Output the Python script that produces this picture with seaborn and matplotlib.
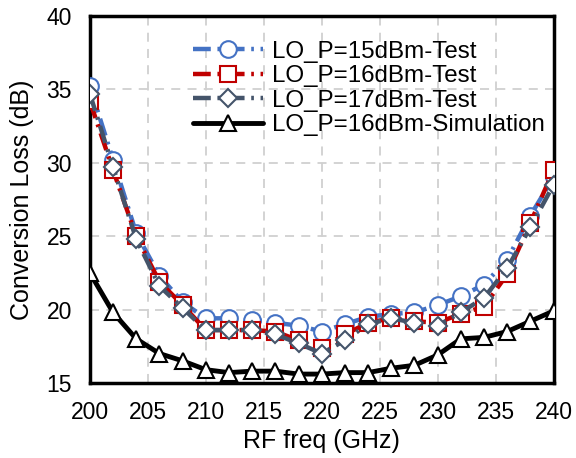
import seaborn as sns
import matplotlib.pyplot as plt
import pandas as pd
import numpy as np

# Data
freq = [200, 202, 204, 206, 208, 210, 212, 214, 216, 218, 220,
        222, 224, 226, 228, 230, 232, 234, 236, 238, 240]
lo15_test = [35.2, 30.2, 25.2, 22.3, 20.5, 19.4, 19.4, 19.3, 19.1, 18.9, 18.5,
             19.0, 19.5, 19.7, 19.8, 20.3, 20.9, 21.7, 23.4, 26.4, 29.0]
lo16_test = [34.2, 29.5, 25.0, 21.9, 20.3, 18.6, 18.6, 18.6, 18.5, 17.9, 17.4,
             18.3, 19.1, 19.4, 19.2, 19.1, 19.7, 20.2, 22.4, 25.9, 29.5]
lo17_test = [34.7, 29.7, 24.8, 21.6, 20.1, 18.6, 18.6, 18.6, 18.3, 17.7, 17.0,
             17.9, 19.0, 19.4, 19.1, 18.9, 19.8, 20.8, 22.8, 25.6, 28.5]
lo16_sim = [22.5, 19.8, 18.0, 17.0, 16.5, 15.9, 15.7, 15.8, 15.8, 15.6, 15.6,
            15.7, 15.7, 16.0, 16.2, 16.9, 18.0, 18.1, 18.5, 19.2, 19.9]

labels = ['LO_P=15dBm-Test', 'LO_P=16dBm-Test', 'LO_P=17dBm-Test', 'LO_P=16dBm-Simulation']

df = pd.DataFrame({'freq': freq, labels[0]: lo15_test, labels[1]: lo16_test,
                   labels[2]: lo17_test, labels[3]: lo16_sim})

sns.set_style('white', {'text.color': 'black', 'axes.labelcolor': 'black',
                        'xtick.color': 'black', 'ytick.color': 'black'})
plt.rcParams['font.family'] = ['Liberation Sans', 'DejaVu Sans']

fig = plt.figure(figsize=(5.76, 4.58), dpi=100)
ax = fig.add_axes([0.156, 0.164, 0.805, 0.801])

dashdot = (0, (4, 1.5, 0.6, 1.5))
styles = [
    dict(color='#4472C4', marker='o', ms=12, ls=dashdot),
    dict(color='#C00000', marker='s', ms=12, ls=dashdot),
    dict(color='#44546A', marker='D', ms=9.5, ls=dashdot),
    dict(color='black', marker='^', ms=12, ls='-'),
]

for i, (lab, st) in enumerate(zip(labels, styles)):
    sns.lineplot(data=df, x='freq', y=lab, ax=ax, label=lab,
                 color=st['color'], linestyle=st['ls'],
                 lw=3.2 if i < 3 else 3.5,
                 marker=st['marker'], markersize=st['ms'],
                 markerfacecolor='white', markeredgecolor=st['color'],
                 markeredgewidth=1.5, zorder=3 + i)

ax.set_xlim(200, 240)
ax.set_ylim(15, 40)
ax.set_xticks(np.arange(200, 241, 5))
ax.set_yticks(np.arange(15, 41, 5))
ax.grid(True, color='#D0D0D0', ls=(0, (5, 4)), lw=1.3)
for s in ax.spines.values():
    s.set_color('black')
    s.set_linewidth(2.5)
ax.tick_params(labelsize=16.5, direction='in', length=4, width=1.2,
               color='white', labelcolor='black')
ax.tick_params(axis='x', pad=13)
ax.tick_params(axis='y', pad=13)
ax.set_xlabel('RF freq (GHz)', fontsize=18, labelpad=4, color='black')
ax.set_ylabel('Conversion Loss (dB)', fontsize=18, labelpad=9, color='black')

leg = ax.legend(loc='upper right', bbox_to_anchor=(1.024, 0.985), frameon=False,
                fontsize=17.4, handlelength=2.9, handletextpad=0.4,
                labelspacing=0.1, borderaxespad=0.4)
for t in leg.get_texts():
    t.set_color('black')

plt.savefig('out.png', dpi=100)
